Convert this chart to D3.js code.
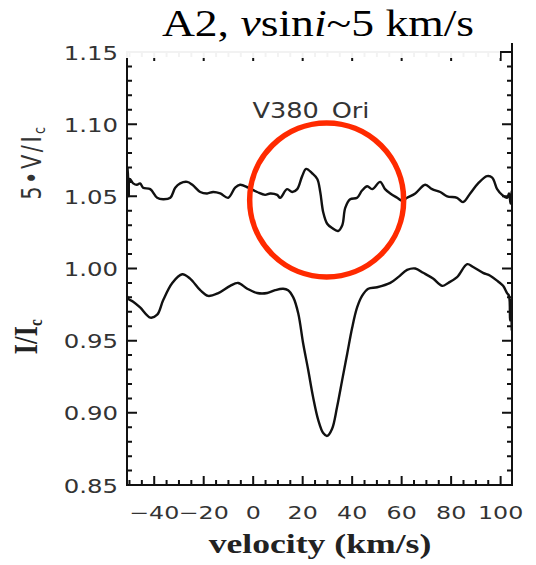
<!DOCTYPE html>
<html>
<head>
<meta charset="utf-8">
<script src="https://cdn.jsdelivr.net/npm/d3@7"></script>
<style>
  body { margin: 0; background: #fff; }
</style>
</head>
<body>
<div id="plot"></div>
<script>
// Chart data
const xTicks = [-40, -20, 0, 20, 40, 60, 80, 100];
const yTicks = [0.85, 0.90, 0.95, 1.00, 1.05, 1.10, 1.15];

// 5*V/Ic shifted to 1.05  [velocity, value]
const stokesV = [
  [-51.0, 1.052], [-50.7, 1.070], [-50.3, 1.050], [-49.9, 1.062], [-48.5, 1.059],
  [-47.0, 1.058], [-45.7, 1.059], [-44.5, 1.056], [-41.6, 1.055], [-38.8, 1.049],
  [-36.4, 1.048], [-33.5, 1.049], [-31.5, 1.056], [-29.5, 1.059], [-26.7, 1.060],
  [-24.6, 1.058], [-21.4, 1.053], [-18.6, 1.052], [-16.2, 1.053], [-13.3, 1.052],
  [-10.1, 1.049], [-7.3, 1.056], [-5.3, 1.058], [-2.0, 1.056], [1.6, 1.053],
  [4.8, 1.051], [6.9, 1.052], [9.7, 1.051], [10.9, 1.049], [13.7, 1.055],
  [15.8, 1.053], [17.8, 1.055], [19.8, 1.064], [21.4, 1.069], [23.8, 1.066],
  [25.9, 1.062], [27.1, 1.053], [28.3, 1.039], [29.9, 1.031], [31.9, 1.028],
  [34.3, 1.026], [36.0, 1.030], [37.2, 1.042], [39.2, 1.048], [42.0, 1.049],
  [44.0, 1.054], [46.1, 1.057], [48.1, 1.055], [51.3, 1.060], [53.3, 1.055],
  [55.4, 1.052], [58.2, 1.049], [60.2, 1.047], [62.2, 1.049], [65.5, 1.052],
  [69.5, 1.058], [72.3, 1.055], [75.6, 1.053], [78.4, 1.050], [82.4, 1.049],
  [84.8, 1.046], [87.7, 1.052], [90.9, 1.059], [94.5, 1.064], [96.6, 1.063],
  [98.6, 1.055], [100.6, 1.051], [102.6, 1.049], [103.4, 1.052], [104.0, 1.045],
  [104.5, 1.054], [105.0, 1.048]
];

// I/Ic  [velocity, value]
const intensity = [
  [-51.0, 0.981], [-50.5, 0.979], [-48.5, 0.977], [-45.7, 0.973], [-41.6, 0.966],
  [-38.8, 0.968], [-36.4, 0.978], [-32.7, 0.990], [-28.7, 0.996], [-25.5, 0.993],
  [-21.4, 0.985], [-18.2, 0.981], [-14.1, 0.983], [-9.3, 0.988], [-6.1, 0.990],
  [-2.4, 0.986], [1.6, 0.983], [5.7, 0.983], [8.9, 0.985], [12.1, 0.986],
  [14.1, 0.985], [16.2, 0.980], [18.2, 0.969], [20.2, 0.948], [22.2, 0.930],
  [24.2, 0.911], [26.3, 0.895], [28.3, 0.886], [29.9, 0.884], [31.9, 0.889],
  [33.9, 0.904], [36.0, 0.923], [38.0, 0.941], [40.0, 0.959], [42.0, 0.973],
  [44.0, 0.981], [46.5, 0.986], [50.1, 0.987], [55.4, 0.990], [58.6, 0.994],
  [62.2, 0.999], [65.5, 1.000], [68.7, 0.997], [72.7, 0.993], [76.4, 0.988],
  [78.8, 0.990], [82.4, 0.994], [86.5, 1.003], [88.9, 1.001], [92.9, 0.997],
  [95.8, 0.995], [99.0, 0.991], [101.0, 0.988], [102.6, 0.983], [103.4, 0.981],
  [103.8, 0.964], [104.2, 0.978], [104.5, 0.957]
];

// Setup
const width = 536;
const height = 565;
const plotLeft = 127, plotRight = 512, plotTop = 52, plotBottom = 485;

const svg = d3.select("#plot")
  .append("svg")
  .attr("width", width)
  .attr("height", height)
  .style("font-family", "'DejaVu Sans', sans-serif");

const x = d3.scaleLinear().domain([-51, 104.6]).range([plotLeft, plotRight]);
const y = d3.scaleLinear().domain([0.85, 1.15]).range([plotBottom, plotTop]);

svg.append("clipPath").attr("id", "clip")
  .append("rect")
  .attr("x", plotLeft).attr("y", plotTop)
  .attr("width", plotRight - plotLeft).attr("height", plotBottom - plotTop);

// Curves
const line = d3.line()
  .x(d => x(d[0]))
  .y(d => y(d[1]))
  .curve(d3.curveCatmullRom.alpha(0.5));

const curves = svg.append("g").attr("clip-path", "url(#clip)");
[stokesV, intensity].forEach(series => {
  curves.append("path")
    .datum(series)
    .attr("d", line)
    .attr("fill", "none")
    .attr("stroke", "#111")
    .attr("stroke-width", 2.4)
    .attr("stroke-linejoin", "round");
});

// Ticks (inward on all four sides), drawn as one path
const xMinor = d3.range(-50, 105, 5);
const yMinor = d3.range(85, 116, 1).map(d => d / 100);

const tickPath = d3.path();
function xTickMarks(values, len) {
  values.forEach(v => {
    tickPath.moveTo(x(v), plotBottom); tickPath.lineTo(x(v), plotBottom - len);
    tickPath.moveTo(x(v), plotTop); tickPath.lineTo(x(v), plotTop + len);
  });
}
function yTickMarks(values, len) {
  values.forEach(v => {
    tickPath.moveTo(plotLeft, y(v)); tickPath.lineTo(plotLeft + len, y(v));
    tickPath.moveTo(plotRight, y(v)); tickPath.lineTo(plotRight - len, y(v));
  });
}
xTickMarks(xMinor, 5);
xTickMarks(xTicks, 9);
yTickMarks(yMinor, 5);
yTickMarks(yTicks, 10);

svg.append("path")
  .attr("d", tickPath.toString())
  .attr("fill", "none")
  .attr("stroke", "#111")
  .attr("stroke-width", 2);

// Frame
svg.append("rect")
  .attr("x", plotLeft).attr("y", plotTop)
  .attr("width", plotRight - plotLeft).attr("height", plotBottom - plotTop)
  .attr("fill", "none")
  .attr("stroke", "#111")
  .attr("stroke-width", 2);

// White box behind title, hides the top of the frame
svg.append("rect")
  .attr("x", plotLeft - 2).attr("y", 0)
  .attr("width", plotRight - plotLeft - 10).attr("height", plotTop + 6)
  .attr("fill", "#fff")
  .attr("opacity", 0.95);

// Right frame edge pokes above the title box
svg.append("line")
  .attr("x1", plotRight).attr("x2", plotRight)
  .attr("y1", plotTop - 9).attr("y2", plotTop)
  .attr("stroke", "#111")
  .attr("stroke-width", 2);

// Tick labels
svg.selectAll(".xlab")
  .data(xTicks)
  .join("text")
  .attr("class", "xlab")
  .attr("transform", d => `translate(${x(d)},519) scale(1.32,1)`)
  .attr("text-anchor", "middle")
  .attr("font-size", 18)
  .attr("fill", "#333")
  .text(d => d < 0 ? "\u2212" + Math.abs(d) : d);

svg.selectAll(".ylab")
  .data(yTicks)
  .join("text")
  .attr("class", "ylab")
  .attr("transform", d => `translate(118,${y(d) + 7.5}) scale(1.22,1)`)
  .attr("text-anchor", "end")
  .attr("font-size", 20)
  .attr("fill", "#333")
  .text(d => d.toFixed(2));

// Axis titles
svg.append("text")
  .attr("transform", "translate(320,553) scale(1.32,1)")
  .attr("text-anchor", "middle")
  .attr("font-family", "'Liberation Serif', serif")
  .attr("font-weight", "bold")
  .attr("font-size", 27)
  .attr("fill", "#222")
  .text("velocity (km/s)");

const yt1 = svg.append("text")
  .attr("transform", "translate(37,337) scale(1.25,1) rotate(-90)")
  .attr("text-anchor", "middle")
  .attr("font-family", "'Liberation Serif', serif")
  .attr("font-weight", "bold")
  .attr("font-size", 27)
  .attr("fill", "#222");
yt1.append("tspan").text("I/I");
yt1.append("tspan").attr("font-size", 15).attr("dy", 4).text("c");

const yt2 = svg.append("text")
  .attr("transform", "translate(41,162) scale(1.25,1) rotate(-90)")
  .attr("text-anchor", "middle")
  .attr("font-size", 21)
  .attr("letter-spacing", 2.5)
  .attr("fill", "#333");
yt2.append("tspan").text("5\u2022V/I");
yt2.append("tspan").attr("font-size", 13).attr("dy", 3).text("c");

// Star name
svg.append("text")
  .attr("transform", "translate(311,118) scale(1.22,1)")
  .attr("text-anchor", "middle")
  .attr("font-size", 21)
  .attr("fill", "#333")
  .text("V380_Ori");

// Title
const title = svg.append("text")
  .attr("transform", "translate(318,36) scale(1.2,1)")
  .attr("text-anchor", "middle")
  .attr("font-family", "'Liberation Serif', 'Times New Roman', serif")
  .attr("font-size", 38)
  .attr("fill", "#000");
title.append("tspan").text("A2, ");
title.append("tspan").attr("font-style", "italic").text("v");
title.append("tspan").text("sin");
title.append("tspan").attr("font-style", "italic").text("i");
title.append("tspan").text("~5 km/s");

// Red circle annotation around the V signature
svg.append("circle")
  .attr("cx", x(29.7))
  .attr("cy", y(1.0475))
  .attr("r", 77)
  .attr("fill", "none")
  .attr("stroke", "#ff2a00")
  .attr("stroke-width", 5.5);
</script>
</body>
</html>
